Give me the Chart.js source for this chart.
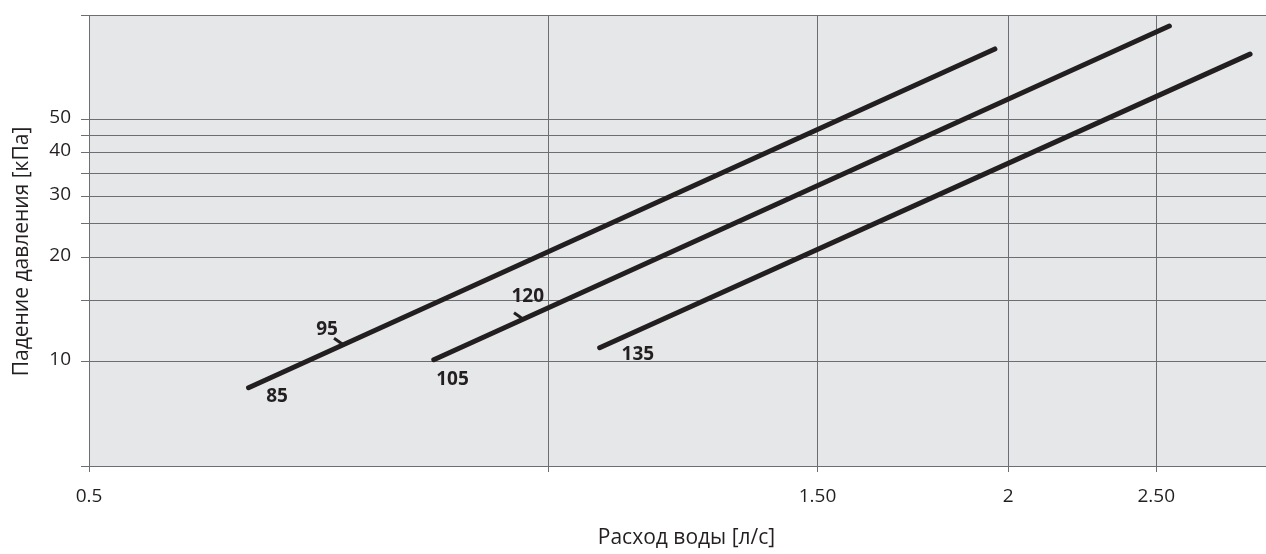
<!DOCTYPE html>
<html>
<head>
<meta charset="utf-8">
<script src="https://cdn.jsdelivr.net/npm/chart.js@4/dist/chart.umd.min.js"></script>
<style>
    html, body { margin: 0; padding: 0; background: #fff; overflow: hidden; }
    #wrap { width: 1266px; height: 554px; position: relative; }
    canvas { display: block; }
</style>
</head>
<body>
<div id="wrap"><canvas id="dropChart"></canvas></div>
<script>
// Axis ticks
const flowTicks = [0.5, 1, 1.5, 2, 2.5];
const flowTickLabels = ['0.5', '', '1.50', '2', '2.50'];
const dropTicks = [5, 10, 15, 20, 25, 30, 35, 40, 45, 50, 100];
const dropTickLabels = ['', '10', '', '20', '', '30', '', '40', '', '50', ''];

// Curves (flow l/s -> pressure drop kPa)
const curveNames = ['85 / 95', '105 / 120', '135'];
const curveFlow = [[0.636, 1.96], [0.841, 2.55], [1.08, 2.88]];
const curveDrop = [[8.41, 79.8], [10.13, 92.9], [10.97, 77.1]];

// Small tick marks on the curves
const markFlow = [0.728, 0.955];
const markDrop = [11.46, 13.58];

// Curve labels
const labelTexts = ['85', '95', '105', '120', '135'];
const labelFlow = [0.664, 0.716, 0.865, 0.969, 1.144];
const labelDrop = [7.92, 12.37, 8.87, 15.41, 10.48];

const xTitle = 'Расход воды [л/с]';
const yTitle = 'Падение давления [кПа]';

const INK = '#231f20';
const GRID = '#6d6e71';
const FONT = '"Open Sans", sans-serif';

const plotBackground = {
    id: 'plotBackground',
    beforeDraw(chart) {
        const { ctx, chartArea: a } = chart;
        ctx.save();
        ctx.fillStyle = '#e6e7e8';
        ctx.fillRect(a.left, a.top, a.right - a.left, a.bottom - a.top);
        ctx.restore();
    }
};

// curve labels + axis titles
const chartTexts = {
    id: 'chartTexts',
    afterDatasetsDraw(chart) {
        const { ctx, scales, chartArea: a } = chart;
        ctx.save();
        ctx.fillStyle = INK;
        ctx.textAlign = 'center';
        ctx.textBaseline = 'middle';
        ctx.font = 'bold 19px ' + FONT;
        labelTexts.forEach((t, i) => {
            ctx.fillText(t, scales.x.getPixelForValue(labelFlow[i]), scales.y.getPixelForValue(labelDrop[i]));
        });

        ctx.font = '21px ' + FONT;
        ctx.fillText(xTitle, (a.left + a.right) / 2 + 9, chart.height - 16);
        ctx.translate(22, (a.top + a.bottom) / 2 + 11);
        ctx.rotate(-Math.PI / 2);
        ctx.fillText(yTitle, 0, 0);
        ctx.restore();
    }
};

const datasets = curveNames.map((name, i) => ({
    label: name,
    data: curveFlow[i].map((f, j) => ({ x: f, y: curveDrop[i][j] })),
    borderColor: INK,
    borderWidth: 5,
    borderCapStyle: 'round',
    pointRadius: 0,
    showLine: true
}));

datasets.push({
    label: 'marks',
    data: markFlow.map((f, i) => ({ x: f, y: markDrop[i] })),
    showLine: false,
    pointStyle: 'line',
    rotation: 35,
    pointRadius: 5,
    borderWidth: 3,
    borderColor: INK,
    backgroundColor: INK
});

new Chart(document.getElementById('dropChart'), {
    type: 'scatter',
    data: { datasets },
    options: {
        responsive: true,
        maintainAspectRatio: false,
        animation: false,
        layout: { autoPadding: false, padding: { top: 15, right: 0, left: 0, bottom: 0 } },
        plugins: {
            legend: { display: false },
            tooltip: { enabled: false }
        },
        scales: {
            x: {
                type: 'logarithmic',
                min: 0.5,
                max: 2.95,
                afterBuildTicks: s => { s.ticks = flowTicks.map(v => ({ value: v })); },
                afterFit: s => { s.height = 88; s.paddingLeft = 0; s.paddingRight = 0; },
                grid: { color: GRID, lineWidth: 1, tickLength: 6, drawTicks: true },
                border: { color: GRID, width: 1 },
                ticks: {
                    color: INK,
                    font: { family: FONT, size: 19 },
                    padding: 13,
                    maxRotation: 0,
                    autoSkip: false,
                    callback: (v, i) => flowTickLabels[i]
                }
            },
            y: {
                type: 'logarithmic',
                min: 5,
                max: 100,
                afterBuildTicks: s => { s.ticks = dropTicks.map(v => ({ value: v })); },
                afterFit: s => { s.width = 89; s.paddingTop = 0; s.paddingBottom = 0; },
                grid: { color: GRID, lineWidth: 1, tickLength: 8, drawTicks: true },
                border: { color: GRID, width: 1 },
                ticks: {
                    color: INK,
                    font: { family: FONT, size: 19 },
                    padding: 10,
                    labelOffset: -2,
                    autoSkip: false,
                    callback: (v, i) => dropTickLabels[i]
                }
            }
        }
    },
    plugins: [plotBackground, chartTexts]
});
</script>
</body>
</html>
